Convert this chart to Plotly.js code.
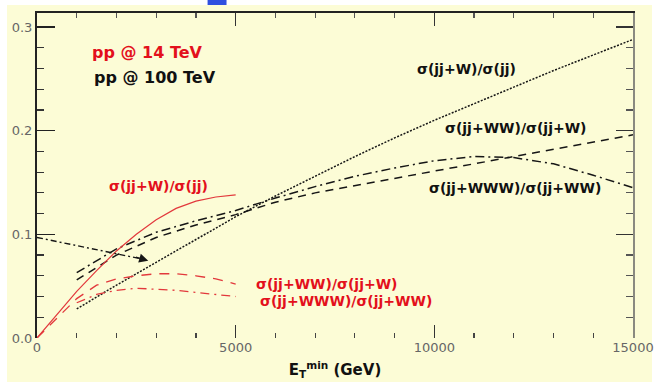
<!DOCTYPE html>
<html>
<head>
<meta charset="utf-8">
<script src="https://cdn.plot.ly/plotly-3.0.1.min.js"></script>
<style>html,body{margin:0;padding:0;background:#fff;}#chart{width:662px;height:382px;}</style>
</head>
<body>
<div id="chart"></div>
<script>
// ---- data ----
// 100 TeV curves (black), E_T^min in GeV
const etBlack = [1000, 2000, 3000, 4000, 5000, 6000, 7000, 8000, 9000, 10000, 11000, 12000, 13000, 14000, 15000];
const blackW   = [0.028, 0.051, 0.073, 0.095, 0.117, 0.137, 0.156, 0.175, 0.193, 0.210, 0.226, 0.242, 0.258, 0.273, 0.288];
const blackWW  = [0.056, 0.080, 0.097, 0.109, 0.119, 0.131, 0.140, 0.147, 0.154, 0.161, 0.168, 0.175, 0.182, 0.189, 0.196];
const blackWWW = [0.063, 0.086, 0.102, 0.113, 0.123, 0.135, 0.146, 0.156, 0.164, 0.171, 0.175, 0.174, 0.168, 0.157, 0.145];
// 14 TeV curves (red)
const etRed    = [0, 500, 1000, 1500, 2000, 2500, 3000, 3500, 4000, 4500, 5000];
const redW     = [0.000, 0.022, 0.045, 0.065, 0.084, 0.100, 0.114, 0.125, 0.132, 0.136, 0.138];
const redWW    = [0.000, 0.019, 0.038, 0.051, 0.057, 0.060, 0.062, 0.062, 0.060, 0.057, 0.052];
const etRed3   = [1000, 1500, 2000, 2500, 3000, 3500, 4000, 4500, 5000];
const redWWW   = [0.034, 0.042, 0.046, 0.048, 0.047, 0.046, 0.044, 0.042, 0.040];
// pointer arrow (from axis to the curves)
const arrowX = [0, 2600];
const arrowY = [0.097, 0.0765];
// tick labels
const xTicks = [0, 5000, 10000, 15000];
const yTicks = [0.0, 0.1, 0.2, 0.3];
// labels
const labW   = "σ(jj+W)/σ(jj)";
const labWW  = "σ(jj+WW)/σ(jj+W)";
const labWWW = "σ(jj+WWW)/σ(jj+WW)";

const BLK = '#161616', RED = '#e2383c', TRED = '#e3101c';
const FONT = 'DejaVu Sans, Verdana, sans-serif';

const traces = [
  {x: etBlack, y: blackW, mode: 'lines', line: {color: BLK, width: 1.5, dash: '2px,1.5px'}},
  {x: etBlack, y: blackWW, mode: 'lines', line: {color: BLK, width: 1.5, dash: '8px,6px'}},
  {x: etBlack, y: blackWWW, mode: 'lines', line: {color: BLK, width: 1.5, dash: '9px,4px,2px,4px'}},
  {x: etRed, y: redW, mode: 'lines', line: {color: RED, width: 1.2}},
  {x: etRed, y: redWW, mode: 'lines', line: {color: RED, width: 1.3, dash: '10px,8px'}},
  {x: etRed3, y: redWWW, mode: 'lines', line: {color: RED, width: 1.3, dash: '9px,5px,2px,5px'}},
  {x: arrowX, y: arrowY, mode: 'lines', line: {color: BLK, width: 1.4, dash: '6px,3px,2px,3px'}},
  {x: [], y: [], xaxis: 'x2', yaxis: 'y2', mode: 'lines', hoverinfo: 'skip'}
];

const txt = (text, x, y, color, size) => ({
  text: text, x: x, y: y, xref: 'x', yref: 'y', showarrow: false,
  xanchor: 'center', yanchor: 'middle',
  font: {family: FONT, size: size, color: color, weight: 'bold'}
});

const layout = {
  width: 662, height: 382,
  margin: {l: 37, r: 29, t: 13, b: 44},
  paper_bgcolor: '#ffffff',
  plot_bgcolor: 'rgba(0,0,0,0)',
  showlegend: false,
  xaxis: {
    range: [0, 15000], showgrid: false, zeroline: false, showline: false,
    ticks: 'inside', ticklen: 13, tickwidth: 1.5, tickcolor: '#333',
    tickvals: xTicks, tickformat: 'd',
    minor: {dtick: 1000, ticks: 'inside', ticklen: 5, tickwidth: 1.2, tickcolor: '#444'},
    tickfont: {family: FONT, size: 13, color: '#666'},
    title: {text: 'E<sub>T</sub><sup>min</sup> (GeV)', standoff: 10,
            font: {family: FONT, size: 15, color: '#111', weight: 'bold'}}
  },
  xaxis2: {
    overlaying: 'x', side: 'top', anchor: 'y', range: [0, 15000],
    showgrid: false, zeroline: false, showline: true, linecolor: '#222', linewidth: 2,
    ticks: 'inside', ticklen: 13, tickwidth: 1.5, tickcolor: '#333', tickvals: xTicks,
    minor: {dtick: 1000, ticks: 'inside', ticklen: 5, tickwidth: 1.2, tickcolor: '#555'},
    showticklabels: false
  },
  yaxis: {
    range: [0, 0.3135], showgrid: false, zeroline: false,
    showline: true, linecolor: '#222', linewidth: 2,
    ticks: 'inside', ticklen: 18, tickwidth: 1.5, tickcolor: '#222',
    tickvals: yTicks, tickformat: '.1f',
    minor: {dtick: 0.02, ticks: 'inside', ticklen: 7, tickwidth: 1.2, tickcolor: '#333'},
    tickfont: {family: FONT, size: 13, color: '#666'}
  },
  yaxis2: {
    overlaying: 'y', side: 'right', anchor: 'x', range: [0, 0.3135],
    showgrid: false, zeroline: false, showline: true, linecolor: '#8a8a80', linewidth: 2,
    ticks: 'inside', ticklen: 17, tickwidth: 1.5, tickcolor: '#333', tickvals: yTicks,
    minor: {dtick: 0.02, ticks: 'inside', ticklen: 7, tickwidth: 1.2, tickcolor: '#555'},
    showticklabels: false
  },
  shapes: [
    {type: 'rect', xref: 'paper', yref: 'paper', layer: 'below',
     x0: -0.0503, x1: 1.0319, y0: -0.2, y1: 1.0246,
     fillcolor: '#fcfcd6', line: {width: 0}},
    {type: 'rect', xref: 'paper', yref: 'paper', layer: 'above',
     x0: 0.2862, x1: 0.3180, y0: 1.0246, y1: 1.05,
     fillcolor: '#2f4fe0', line: {width: 0}}
  ],
  annotations: [
    txt('pp @ 14 TeV', 2771, 0.275, TRED, 16),
    txt('pp @ 100 TeV', 2973, 0.251, '#111', 16),
    txt(labW, 3048, 0.1466, TRED, 14),
    txt(labWW, 7302, 0.052, TRED, 14),
    txt(labWWW, 7780, 0.0357, TRED, 14),
    txt(labW, 10800, 0.2595, '#111', 14),
    txt(labWW, 12046, 0.2026, '#111', 14),
    txt(labWWW, 12021, 0.1447, '#111', 14),
    {x: 2800, y: 0.0745, ax: 2450, ay: 0.0785, xref: 'x', yref: 'y', axref: 'x', ayref: 'y',
     text: '', showarrow: true, arrowhead: 2, arrowsize: 1.3, arrowwidth: 1.4, arrowcolor: BLK}
  ]
};

Plotly.newPlot('chart', traces, layout, {staticPlot: true, displayModeBar: false});
</script>
</body>
</html>
